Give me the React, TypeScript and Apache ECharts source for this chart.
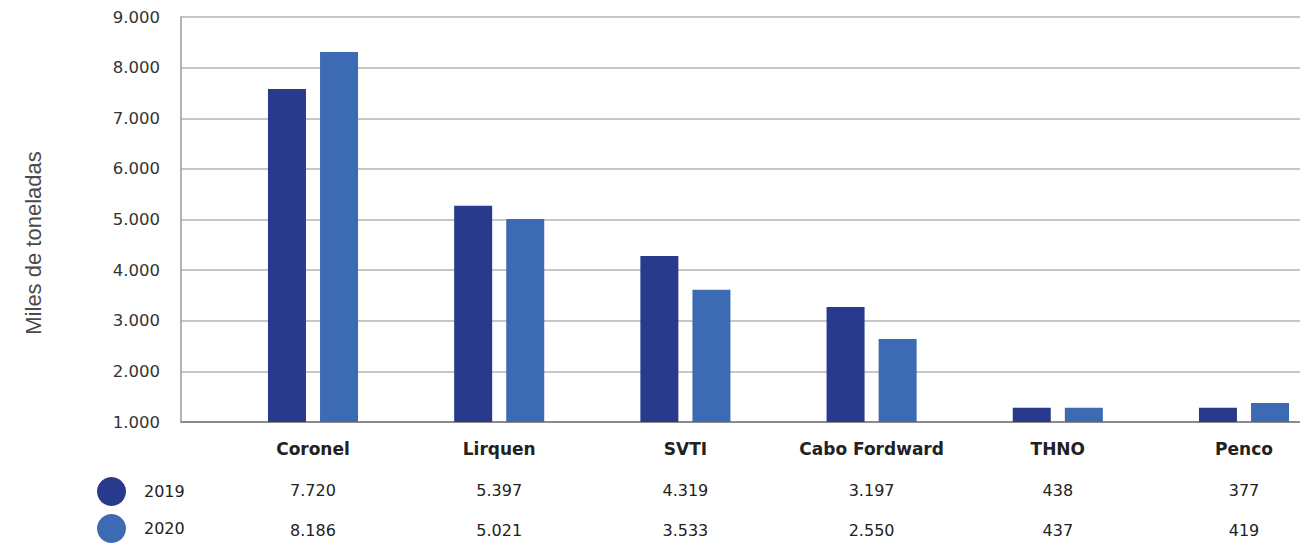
import React, { useEffect, useRef } from "react";
import * as echarts from "echarts";

const categories = ["Coronel", "Lirquen", "SVTI", "Cabo Fordward", "THNO", "Penco"];
const seriesNames = ["2019", "2020"];
// bar heights as drawn in the picture (axis units)
const bars2019 = [7580, 5270, 4280, 3270, 1280, 1280];
const bars2020 = [8310, 5010, 3610, 2640, 1280, 1375];
// table values printed under the chart
const table2019 = ["7.720", "5.397", "4.319", "3.197", "438", "377"];
const table2020 = ["8.186", "5.021", "3.533", "2.550", "437", "419"];
const yTicks = [1000, 2000, 3000, 4000, 5000, 6000, 7000, 8000, 9000];
const yTitle = "Miles de toneladas";

const colors = ["#283a8b", "#3d6bb3"];
const font = "'DejaVu Sans', 'Noto Sans', sans-serif";

function fmtThousands(v: number): string {
  return String(v).replace(/\B(?=(\d{3})+(?!\d))/g, ".");
}

export default function App() {
  const ref = useRef<HTMLDivElement>(null);
  useEffect(() => {
    document.body.style.margin = "0";
    if (!ref.current) return;
    const chart = echarts.init(ref.current, null, { renderer: "svg" });
    const yMin = yTicks[0];
    const yMax = yTicks[yTicks.length - 1];
    const yInterval = yTicks[1] - yTicks[0];
    chart.setOption({
      animation: false,
      backgroundColor: "#ffffff",
      color: colors,
      legend: {
        data: seriesNames,
        orient: "vertical",
        left: 97,
        top: 477,
        padding: 0,
        icon: "circle",
        itemWidth: 29,
        itemHeight: 29,
        itemGap: 8,
        textStyle: {
          fontFamily: font,
          fontSize: 16,
          color: "#222",
          padding: [0, 0, 0, 13],
        },
      },
      grid: [
        { left: 181, right: 0, top: 17, bottom: 122, containLabel: false },
        { left: 313, right: 56, top: 17, bottom: 122, containLabel: false },
      ],
      xAxis: [
        {
          gridIndex: 0,
          type: "category",
          data: [""],
          axisLine: { show: true, lineStyle: { color: "#8c8c8c", width: 2 } },
          axisTick: { show: false },
          axisLabel: { show: false },
          splitLine: { show: false },
        },
        {
          gridIndex: 1,
          type: "category",
          boundaryGap: false,
          data: categories,
          axisLine: { show: false },
          axisTick: { show: false },
          axisLabel: {
            interval: 0,
            margin: 12,
            formatter: (v: string, i: number) =>
              `{n|${v}}\n{a|${table2019[i]}}\n{b|${table2020[i]}}`,
            rich: {
              n: {
                fontFamily: font,
                fontSize: 17,
                fontWeight: "bold",
                color: "#222",
                lineHeight: 30,
                align: "center",
              },
              a: {
                fontFamily: font,
                fontSize: 16,
                color: "#222",
                lineHeight: 52,
                align: "center",
              },
              b: {
                fontFamily: font,
                fontSize: 16,
                color: "#222",
                lineHeight: 28,
                align: "center",
              },
            },
          },
        },
      ],
      yAxis: [
        {
          gridIndex: 0,
          type: "value",
          min: yMin,
          max: yMax,
          interval: yInterval,
          axisLine: { show: true, lineStyle: { color: "#9a9a9a", width: 1.5 } },
          axisTick: { show: false },
          axisLabel: {
            margin: 21,
            fontFamily: font,
            fontSize: 16.5,
            color: "#333",
            formatter: (v: number) => fmtThousands(v),
          },
          splitLine: { show: true, lineStyle: { color: "#b4b4b4", width: 1.5 } },
        },
        {
          gridIndex: 1,
          type: "value",
          min: yMin,
          max: yMax,
          interval: yInterval,
          show: false,
          splitLine: { show: false },
        },
      ],
      series: [
        {
          name: seriesNames[0],
          type: "bar",
          xAxisIndex: 1,
          yAxisIndex: 1,
          data: bars2019,
          barWidth: 38,
          barGap: "37%",
          itemStyle: { color: colors[0] },
        },
        {
          name: seriesNames[1],
          type: "bar",
          xAxisIndex: 1,
          yAxisIndex: 1,
          data: bars2020,
          barWidth: 38,
          barGap: "37%",
          itemStyle: { color: colors[1] },
        },
      ],
      graphic: [
        {
          type: "text",
          x: 33,
          y: 243,
          rotation: Math.PI / 2,
          style: {
            text: yTitle,
            fontFamily: "'Liberation Sans', Arial, sans-serif",
            fontSize: 22,
            fill: "#4a4a4a",
            align: "center",
            verticalAlign: "middle",
          },
        },
      ],
    });
    return () => chart.dispose();
  }, []);
  return <div ref={ref} style={{ width: 1300, height: 544 }} />;
}
